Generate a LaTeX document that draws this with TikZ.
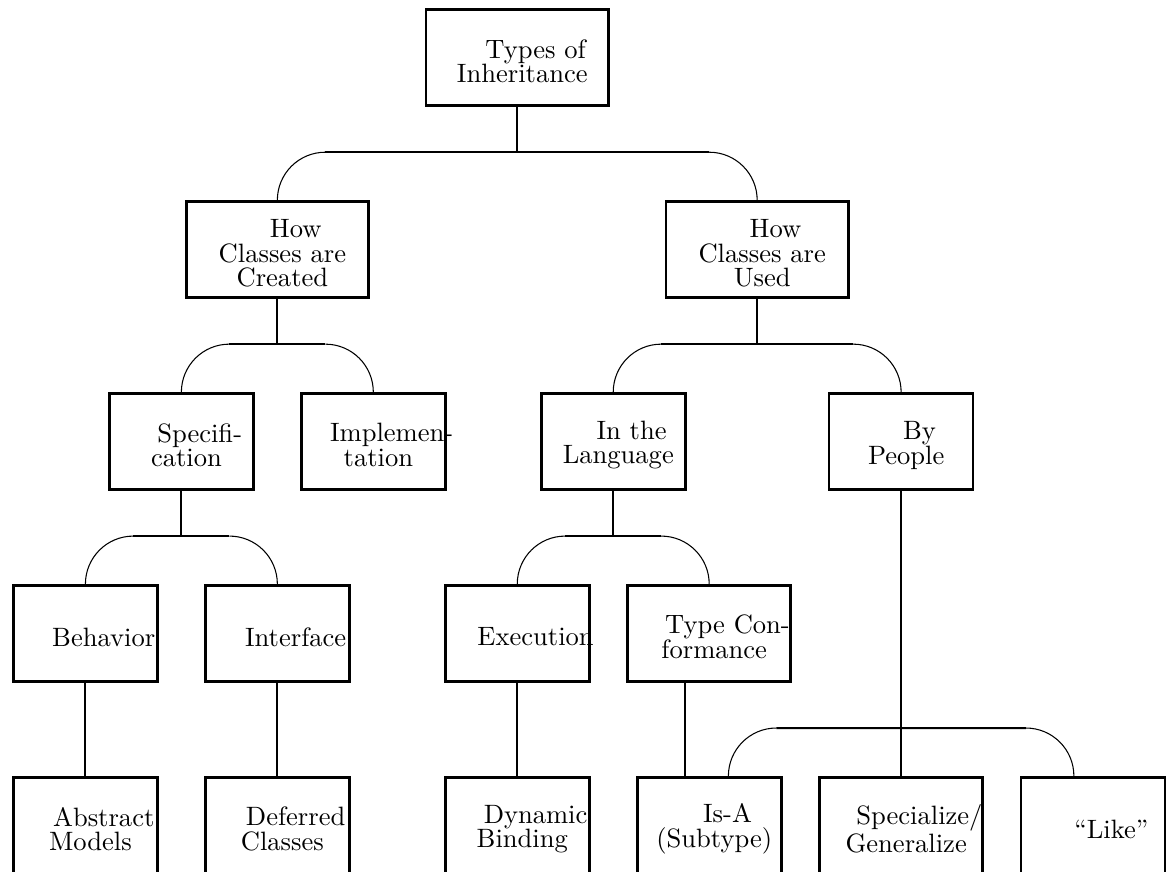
\documentclass[tikz,border=0pt]{standalone}
\usetikzlibrary{positioning}

\begin{document}
\begin{tikzpicture}[x=1in, y=1in, node distance=1in, on grid,
                    every label/.style={align=center, font=\fontsize{10}{9.3}\selectfont,
                                        xshift=1.9pt, yshift=-1.4pt},
                    box/.style={draw, line width=1pt, inner sep=0pt,
                                minimum width=0.75in, minimum height=0.5in,
                                label=center:{\hspace*{10pt}#1}},
                    widebox/.style={box={#1}, minimum width=0.95in},
                    midbox/.style={box={#1}, minimum width=0.85in},
                    stem/.style={line width=0.75pt},
                    curl/.style={line width=0.4pt}]
    %\draw[help lines] (0,0) grid (6,-5);
   \useasboundingbox (0,0) rectangle (6.075,-4.542);
   \clip (0,0) rectangle (6.075,-4.542);

   \node[widebox={Types of\\Inheritance}]      (root)      at (2.695,-0.3) {};
   \node[widebox={How\\Classes are\\Created}]  (created)   [below left=1in and 1.25in of root]   {};
   \node[widebox={How\\Classes are\\Used}]     (used)      [below right=1in and 1.25in of root]  {};
   \node[box={Specifi-\\cation}]               (spec)      [below left=1in and 0.5in of created] {};
   \node[box={Implemen-\\tation}]              (impl)      [below right=1in and 0.5in of created] {};
   \node[box={In the\\Language}]               (lang)      [below left=1in and 0.75in of used]   {};
   \node[box={By\\People}]                     (people)    [below right=1in and 0.75in of used]  {};
   \node[box={Behavior}]                       (behavior)  [below left=1in and 0.5in of spec]    {};
   \node[box={Interface}]                      (interface) [below right=1in and 0.5in of spec]   {};
   \node[box={Execution}]                      (execution) [below left=1in and 0.5in of lang]    {};
   \node[midbox={Type Con-\\formance}]         (conform)   [below right=1in and 0.5in of lang]   {};
   \node[box={Abstract\\Models}]               (abstract)  [below=of behavior]                   {};
   \node[box={Deferred\\Classes}]              (deferred)  [below=of interface]                  {};
   \node[box={Dynamic\\Binding}]               (dynamic)   [below=of execution]                  {};
   \node[box={Is-A\\(Subtype)}]                (isa)       [below=of conform]                    {};
   \node[midbox={Specialize/\\Generalize}]     (special)   [below=2in of people]                 {};
   \node[box={“Like”}]                         (like)      [right=of special]                    {};

   % two-way forks
   \foreach \pa/\lc/\rc in {root/created/used, created/spec/impl, used/lang/people,
                            spec/behavior/interface, lang/execution/conform} {
     \draw[curl] (\lc.north) arc[start angle=180, end angle=90, radius=0.25in] coordinate (bl);
     \draw[curl] (\rc.north) arc[start angle=0, end angle=90, radius=0.25in] coordinate (br);
     \draw[stem] (bl) -- (br);
     \draw[stem] (\pa) -- (\pa |- bl);
   }

   % by people
   \draw[stem] (people) -- (special);
   \draw[curl] ([xshift=0.1in]isa.north) arc[start angle=180, end angle=90, radius=0.25in] coordinate (pl);
   \draw[curl] ([xshift=-0.1in]like.north) arc[start angle=0, end angle=90, radius=0.25in] coordinate (pr);
   \draw[stem] (pl) -- (pr);

   % single links
   \draw[stem] ([xshift=-0.125in]conform.south) -- ([xshift=-0.125in]isa.north);
   \draw[stem] (behavior)  -- (abstract);
   \draw[stem] (interface) -- (deferred);
   \draw[stem] (execution) -- (dynamic);

\end{tikzpicture}
\end{document}
